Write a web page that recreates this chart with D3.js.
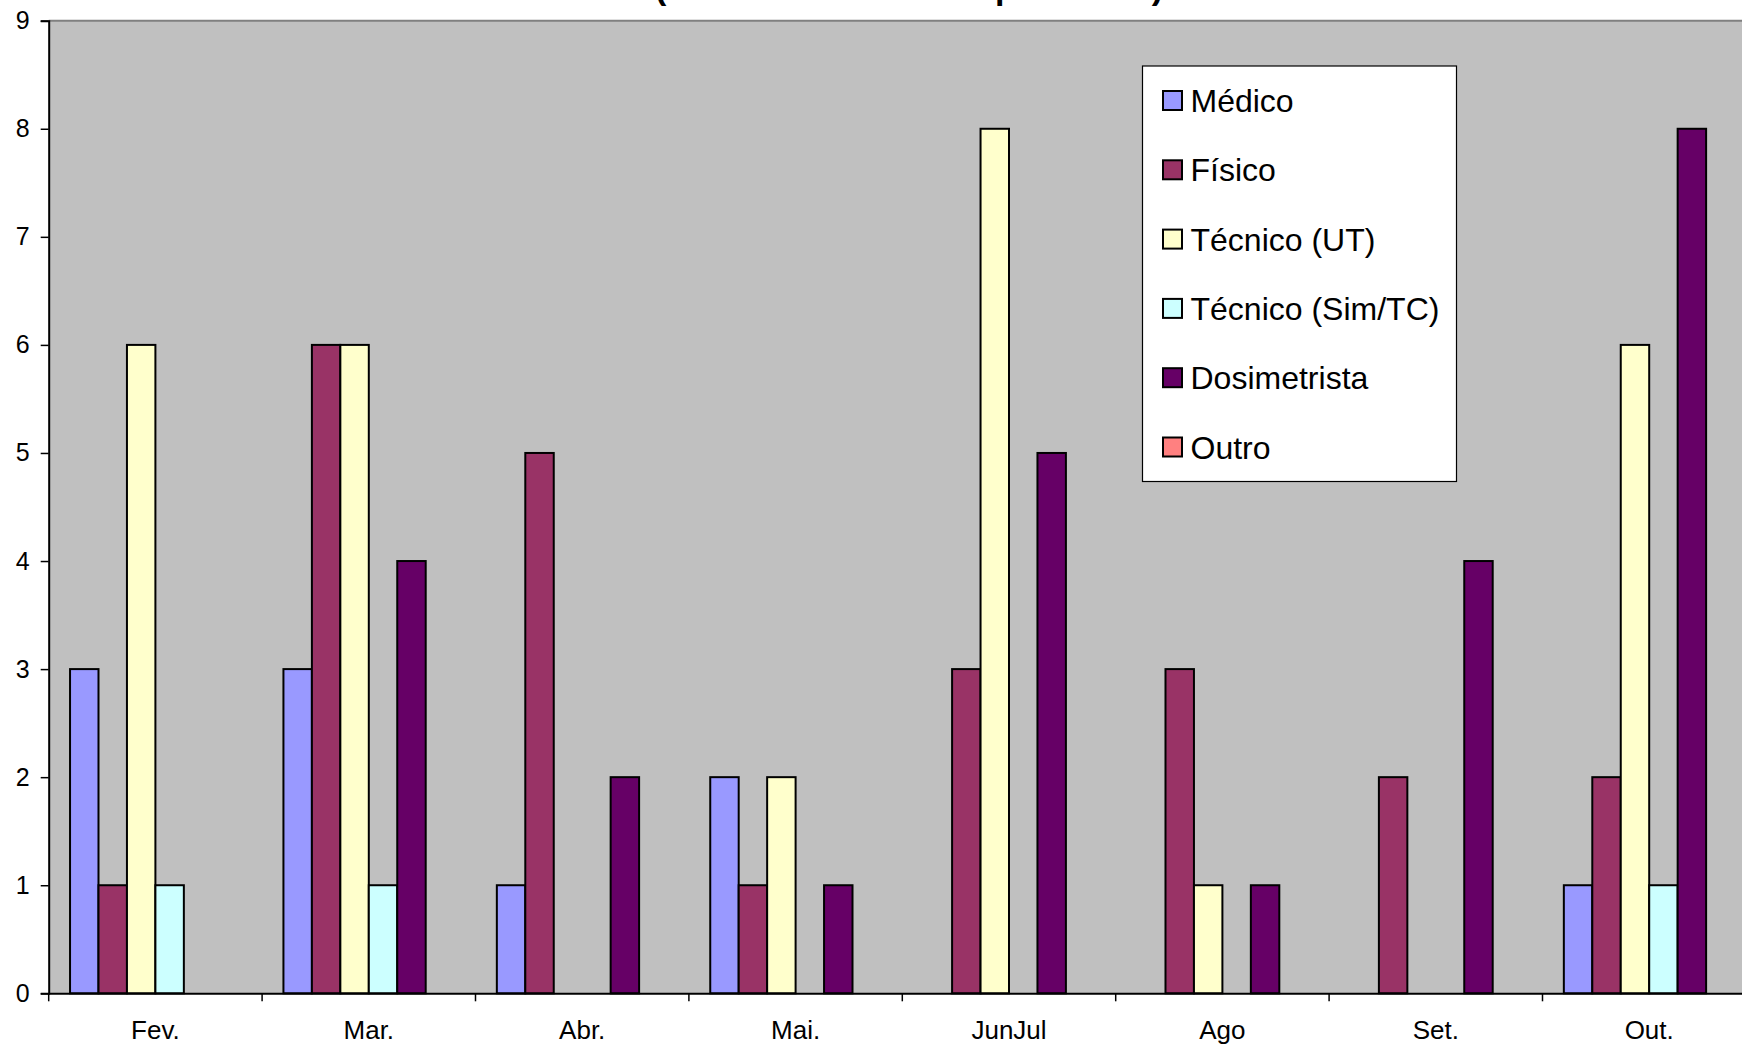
<!DOCTYPE html>
<html>
<head>
<meta charset="utf-8">
<script src="https://cdn.jsdelivr.net/npm/d3@7"></script>
<style>
  html, body { margin: 0; padding: 0; background: #ffffff; overflow: hidden; }
  svg { display: block; font-family: Arial, "Liberation Sans", sans-serif; }
</style>
</head>
<body>
<svg id="chart" width="1742" height="1044"></svg>
<script>
// Monthly counts of reports, grouped by the reporter's profession
const categories = ["Fev.", "Mar.", "Abr.", "Mai.", "JunJul", "Ago", "Set.", "Out."];
const seriesNames = ["Médico", "Físico", "Técnico (UT)", "Técnico (Sim/TC)", "Dosimetrista", "Outro"];
const seriesColors = ["#9999FF", "#993366", "#FFFFCC", "#CCFFFF", "#660066", "#FF8080"];

const medico       = [3, 3, 1, 2, 0, 0, 0, 1];
const fisico       = [1, 6, 5, 1, 3, 3, 2, 2];
const tecnicoUT    = [6, 6, 0, 2, 8, 1, 0, 6];
const tecnicoSimTC = [1, 1, 0, 0, 0, 0, 0, 1];
const dosimetrista = [0, 4, 2, 1, 5, 1, 4, 8];
const outro        = [0, 0, 0, 0, 0, 0, 0, 0];

const yTicks = [0, 1, 2, 3, 4, 5, 6, 7, 8, 9];
const titleText = "(total de eventos reportados)";

const seriesValues = [medico, fisico, tecnicoUT, tecnicoSimTC, dosimetrista, outro];

const svg = d3.select("#chart");

// Plot geometry
const plotLeft = 48.7, plotTop = 20.7, plotBottom = 993.3;
const bandWidth = 213.4;
const plotRight = plotLeft + bandWidth * categories.length;

const x = d3.scaleBand().domain(categories).range([plotLeft, plotRight]).paddingInner(0).paddingOuter(0);
const xs = d3.scaleBand().domain(seriesNames).range([0, x.bandwidth()]).paddingInner(0).paddingOuter(0.75);
const y = d3.scaleLinear().domain([0, 9]).range([plotBottom, plotTop]);
const color = d3.scaleOrdinal().domain(seriesNames).range(seriesColors);

// Title (second line sits just above the plot)
svg.append("text")
  .attr("x", 655)
  .attr("y", -1)
  .attr("textLength", 508)
  .attr("lengthAdjust", "spacing")
  .attr("font-size", 34)
  .attr("font-weight", "bold")
  .attr("fill", "#000")
  .text(titleText);

// Plot background
svg.append("rect")
  .attr("x", plotLeft).attr("y", plotTop)
  .attr("width", plotRight - plotLeft).attr("height", plotBottom - plotTop)
  .attr("fill", "#C0C0C0");

svg.append("line")
  .attr("x1", plotLeft).attr("x2", plotRight)
  .attr("y1", plotTop).attr("y2", plotTop)
  .attr("stroke", "#808080").attr("stroke-width", 2);

// Bars
const rows = [];
categories.forEach((c, i) => {
  seriesNames.forEach((s, j) => {
    rows.push({ category: c, series: s, value: seriesValues[j][i] });
  });
});

svg.append("g")
  .selectAll("rect")
  .data(rows.filter(d => d.value > 0))
  .join("rect")
  .attr("x", d => x(d.category) + xs(d.series))
  .attr("y", d => y(d.value))
  .attr("width", xs.bandwidth())
  .attr("height", d => y(0) - y(d.value))
  .attr("fill", d => color(d.series))
  .attr("stroke", "#000")
  .attr("stroke-width", 2);

// Y axis
const yAxis = svg.append("g")
  .attr("transform", `translate(${plotLeft},0)`)
  .call(d3.axisLeft(y).tickValues(yTicks).tickFormat(d3.format("d")).tickSize(8).tickPadding(11));
yAxis.select(".domain").attr("stroke", "#000").attr("stroke-width", 2);
yAxis.selectAll(".tick line").attr("stroke", "#000").attr("stroke-width", 1.5);
yAxis.selectAll(".tick text")
  .attr("font-size", 25).attr("fill", "#000")
  .attr("font-family", "Arial, 'Liberation Sans', sans-serif");

// X axis: labels centred in each category, ticks on the category boundaries
const xAxis = svg.append("g")
  .attr("transform", `translate(0,${plotBottom})`)
  .call(d3.axisBottom(x).tickSize(0).tickPadding(27));
xAxis.select(".domain").attr("stroke", "#000").attr("stroke-width", 2);
xAxis.selectAll(".tick text")
  .attr("font-size", 26).attr("fill", "#000")
  .attr("font-family", "Arial, 'Liberation Sans', sans-serif");

svg.append("g")
  .selectAll("line")
  .data(categories)
  .join("line")
  .attr("x1", d => x(d)).attr("x2", d => x(d))
  .attr("y1", plotBottom).attr("y2", plotBottom + 8)
  .attr("stroke", "#000").attr("stroke-width", 1.5);

// Legend
const legend = svg.append("g").attr("transform", "translate(1142.5,66)");
legend.append("rect")
  .attr("x", 0).attr("y", 0)
  .attr("width", 314).attr("height", 415.5)
  .attr("fill", "#ffffff")
  .attr("stroke", "#000").attr("stroke-width", 1.2);

const items = legend.selectAll("g.item")
  .data(seriesNames)
  .join("g")
  .attr("class", "item")
  .attr("transform", (d, i) => `translate(0,${35 + i * 69.3})`);

items.append("rect")
  .attr("x", 20.5).attr("y", -10)
  .attr("width", 19).attr("height", 19)
  .attr("fill", d => color(d))
  .attr("stroke", "#000").attr("stroke-width", 2);

items.append("text")
  .attr("x", 48)
  .attr("y", 11)
  .attr("font-size", 32)
  .attr("fill", "#000")
  .text(d => d);
</script>
</body>
</html>
